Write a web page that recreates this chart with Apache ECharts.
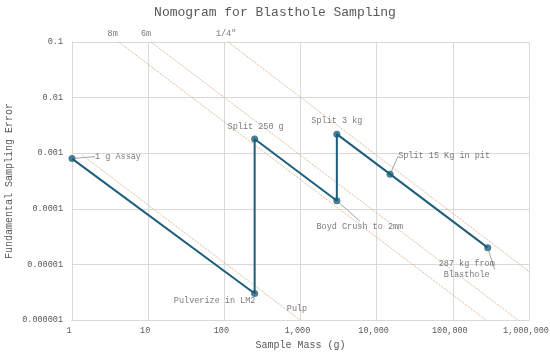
<!DOCTYPE html>
<html>
<head>
<meta charset="utf-8">
<script src="https://cdn.jsdelivr.net/npm/echarts@6/dist/echarts.min.js"></script>
<style>
html,body{margin:0;padding:0;background:#fff;}
#chart{width:550px;height:355px;}
</style>
</head>
<body>
<div id="chart"></div>
<script>
// ---- Data ----
const xTickLabels = ['1', '10', '100', '1,000', '10,000', '100,000', '1,000,000'];
const yTickLabels = ['0.000001', '0.00001', '0.0001', '0.001', '0.01', '0.1'];

// Sampling path (sample mass g, fundamental sampling error)
const pathMass = [1, 250, 250, 3000, 3000, 15000, 287000];
const pathFSE  = [0.0008, 0.000003, 0.0018, 0.00014, 0.0022, 0.00042, 0.00002];
const pathNotes = ['1 g Assay', 'Pulverize in LM2', 'Split 250 g', 'Boyd Crush to 2mm', 'Split 3 kg', 'Split 15 Kg in pit', '287 kg from\nBlasthole'];

// Safety (guide) lines
const guideNames = ['8m', '6m', '1/4"', 'Pulp'];
const guideStartMass = [4.1, 10.9, 112, 1.35];
const guideStartFSE  = [0.1, 0.1, 0.1, 0.00093];
const guideEndMass   = [272000, 716000, 1270000, 985];
const guideEndFSE    = [0.000001, 0.000001, 0.0000058, 0.000001];
const guideLabelAtEnd = [false, false, false, true];

// ---- Styles / label placement ----
const FONT = 'Liberation Mono';
const TXT = '#595959';
const BLUE = '#1d5e7c';
const TAN = '#d9ab7e';
const noteOffsets = [[46, -2], [-40, 7], [1, -12], [23, 26], [0, -13], [54, -18], [-21, 22]];
const noteLeader = [true, false, false, true, false, true, true];
const guideOffsets = [[-6, -8], [-5, -8], [-2, -8], [-3, -11]];

const chart = echarts.init(document.getElementById('chart'), null, {renderer: 'canvas'});

const series = [];
// guide lines
guideNames.forEach((n, i) => {
  series.push({
    type: 'line',
    name: n,
    data: [[guideStartMass[i], guideStartFSE[i]], [guideEndMass[i], guideEndFSE[i]]],
    showSymbol: false,
    symbol: 'none',
    clip: false,
    silent: true,
    lineStyle: {color: TAN, width: 1, type: 'dotted'},
    z: 1
  });
});
// guide labels
series.push({
  type: 'scatter',
  data: guideNames.map((n, i) => guideLabelAtEnd[i]
    ? [guideEndMass[i], guideEndFSE[i]]
    : [guideStartMass[i], guideStartFSE[i]]),
  symbolSize: 1,
  clip: false,
  silent: true,
  itemStyle: {color: 'rgba(0,0,0,0)'},
  label: {
    show: true,
    position: 'inside',
    formatter: p => guideNames[p.dataIndex],
    fontFamily: FONT, fontSize: 8.5, color: TXT
  },
  labelLayout: p => ({dx: guideOffsets[p.dataIndex][0], dy: guideOffsets[p.dataIndex][1]}),
  z: 3
});
// main path
series.push({
  type: 'line',
  data: pathMass.map((m, i) => [m, pathFSE[i]]),
  showSymbol: false,
  symbol: 'none',
  clip: false,
  silent: true,
  lineStyle: {color: BLUE, width: 2},
  z: 4
});
// markers with notes
series.push({
  type: 'scatter',
  data: pathMass.map((m, i) => ({
    value: [m, pathFSE[i]],
    labelLine: {show: noteLeader[i]}
  })),
  symbol: 'circle',
  symbolSize: 7,
  clip: false,
  silent: true,
  itemStyle: {color: BLUE},
  label: {
    show: true,
    position: 'inside',
    formatter: p => pathNotes[p.dataIndex],
    fontFamily: FONT, fontSize: 8.5, color: TXT,
    align: 'center', lineHeight: 11
  },
  labelLine: {show: false, lineStyle: {color: '#a6a6a6', width: 1}},
  labelLayout: p => ({dx: noteOffsets[p.dataIndex][0], dy: noteOffsets[p.dataIndex][1]}),
  z: 5
});

chart.setOption({
  animation: false,
  backgroundColor: '#fff',
  title: {
    text: 'Nomogram for Blasthole Sampling',
    left: 'center',
    top: 1,
    textStyle: {fontFamily: FONT, fontSize: 13, fontWeight: 'normal', color: TXT}
  },
  grid: {left: 72, right: 21, top: 42, bottom: 35, containLabel: false, outerBoundsMode: 'none'},
  xAxis: {
    type: 'log', logBase: 10, min: 1, max: 1000000,
    name: 'Sample Mass (g)', nameLocation: 'middle', nameGap: 18,
    nameTextStyle: {fontFamily: FONT, fontSize: 10, color: TXT},
    axisLine: {show: true, lineStyle: {color: '#d9d9d9'}},
    axisTick: {show: false},
    splitLine: {show: true, lineStyle: {color: '#d9d9d9', width: 1}},
    minorTick: {show: false}, minorSplitLine: {show: false},
    axisLabel: {
      fontFamily: FONT, fontSize: 8.5, color: TXT, margin: 6,
      padding: [0, 6, 0, 0],
      formatter: v => xTickLabels[Math.round(Math.log10(v))]
    }
  },
  yAxis: {
    type: 'log', logBase: 10, min: 0.000001, max: 0.1,
    name: 'Fundamental Sampling Error', nameLocation: 'middle', nameGap: 58,
    nameMoveOverlap: false,
    nameTextStyle: {fontFamily: FONT, fontSize: 10, color: TXT},
    axisLine: {show: true, lineStyle: {color: '#d9d9d9'}},
    axisTick: {show: false},
    splitLine: {show: true, lineStyle: {color: '#d9d9d9', width: 1}},
    axisLabel: {
      fontFamily: FONT, fontSize: 8.5, color: TXT, margin: 9,
      formatter: v => yTickLabels[Math.round(Math.log10(v)) + 6]
    }
  },
  series: series
});
</script>
</body>
</html>
